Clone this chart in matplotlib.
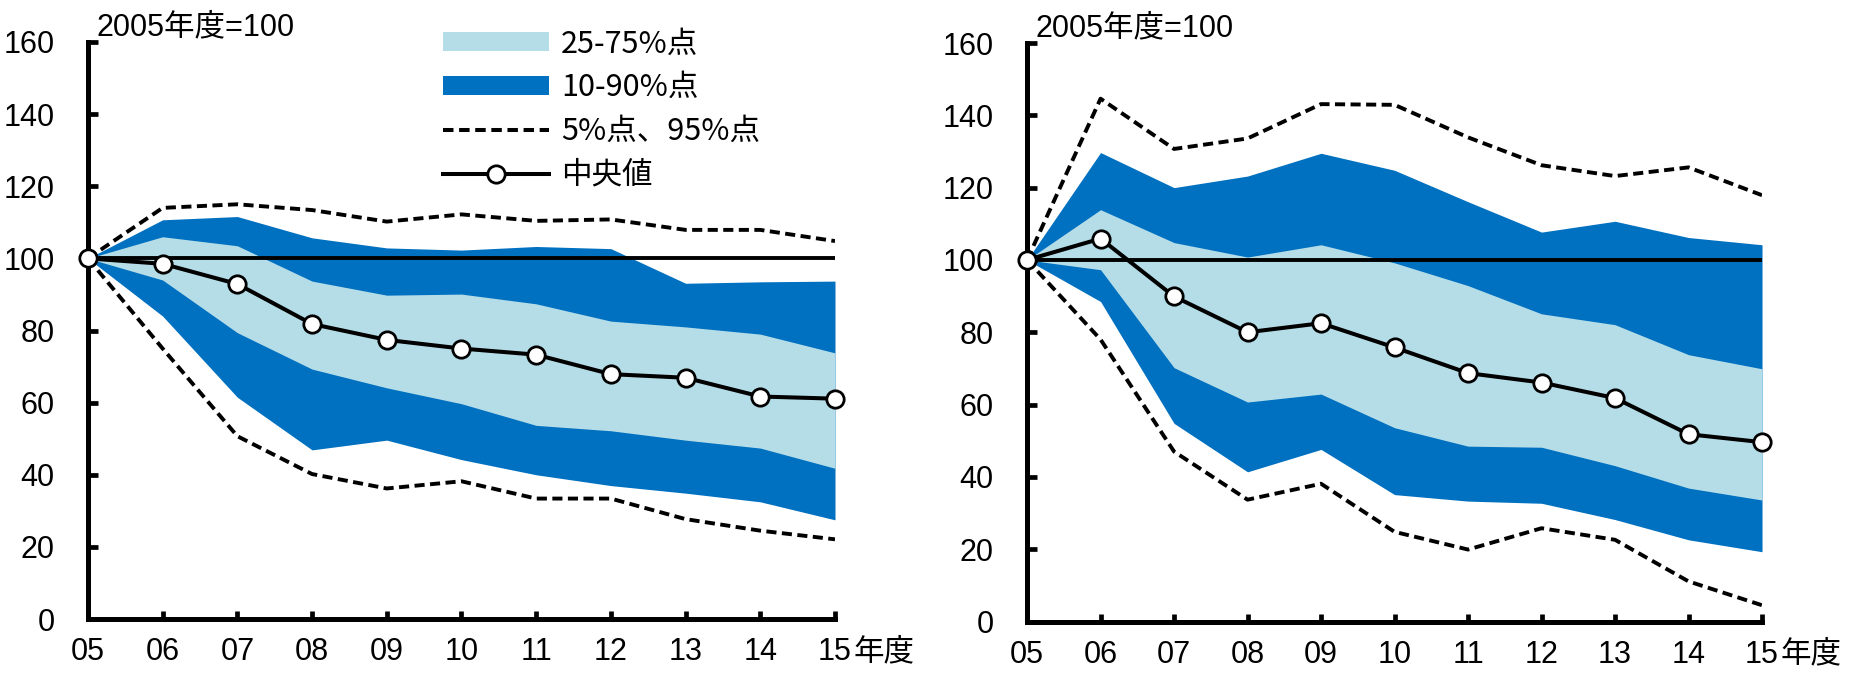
import numpy as np
import matplotlib
matplotlib.use("Agg")
import matplotlib.pyplot as plt
from matplotlib.patches import Patch
from matplotlib.lines import Line2D

plt.rcParams['font.family'] = ['Liberation Sans', 'Noto Sans CJK JP', 'DejaVu Sans']

years = ['05', '06', '07', '08', '09', '10', '11', '12', '13', '14', '15']

# left panel percentiles (2005 = 100)
l_p05 = [100, 75.0, 50.7, 40.2, 36.2, 38.2, 33.4, 33.4, 27.7, 24.5, 22.1]
l_p10 = [100, 84.0, 61.5, 46.9, 49.6, 44.2, 40.0, 37.0, 34.9, 32.5, 27.5]
l_p25 = [100, 94.0, 79.4, 69.3, 64.1, 59.7, 53.7, 52.2, 49.6, 47.4, 41.8]
l_med = [100, 98.5, 92.9, 81.8, 77.4, 75.0, 73.3, 67.9, 66.9, 61.7, 61.1]
l_p75 = [100, 106.0, 103.5, 93.7, 89.8, 90.1, 87.4, 82.6, 81.0, 79.0, 73.8]
l_p90 = [100, 110.7, 111.6, 105.7, 102.9, 102.3, 103.3, 102.7, 93.1, 93.5, 93.7]
l_p95 = [100, 114.0, 115.0, 113.4, 110.2, 112.2, 110.4, 110.8, 107.9, 107.9, 104.8]

# right panel percentiles
r_p05 = [100, 78.0, 47.0, 33.7, 38.1, 24.8, 19.9, 25.8, 22.6, 11.1, 4.5]
r_p10 = [100, 88.5, 54.8, 41.4, 47.6, 35.1, 33.3, 32.7, 28.2, 22.6, 19.3]
r_p25 = [100, 97.3, 70.2, 60.7, 62.9, 53.6, 48.5, 48.2, 43.1, 36.9, 33.6]
r_med = [100, 105.9, 89.9, 80.0, 82.5, 75.8, 68.7, 66.1, 61.8, 51.8, 49.6]
r_p75 = [100, 113.9, 104.8, 100.8, 104.2, 99.2, 92.9, 85.1, 82.1, 73.8, 69.9]
r_p90 = [100, 129.7, 120.0, 123.2, 129.5, 124.8, 116.1, 107.7, 110.7, 106.2, 104.2]
r_p95 = [100, 144.6, 130.7, 133.6, 143.1, 142.9, 133.9, 126.2, 123.2, 125.6, 117.9]

legend_labels = ['25-75%点', '10-90%点', '5%点、95%点', '中央値']

LIGHT = '#B5DDE8'
DARK = '#0070C0'
TICK_FONT = 22
DASH = (0, (2.6, 1.4))

fig = plt.figure(figsize=(18.63, 6.73), dpi=100)
ax1 = fig.add_axes([0.0472, 0.0802, 0.4010, 0.8574])
ax2 = fig.add_axes([0.5513, 0.0765, 0.3945, 0.8596])


def draw_panel(ax, p05, p10, p25, med, p75, p90, p95):
    x = np.arange(len(years))
    ax.fill_between(x, p10, p90, color=DARK, linewidth=0, zorder=1)
    ax.fill_between(x, p25, p75, color=LIGHT, linewidth=0, zorder=2)
    ax.axhline(100, color='black', linewidth=2.8, zorder=3)
    ax.plot(x, p95, color='black', linestyle=DASH, linewidth=2.8, zorder=4)
    ax.plot(x, p05, color='black', linestyle=DASH, linewidth=2.8, zorder=4)
    ax.plot(x, med, color='black', linewidth=2.9, marker='o', markersize=12.5,
            markerfacecolor='white', markeredgecolor='black', markeredgewidth=2.0,
            zorder=5, clip_on=False)

    ax.set_xlim(0, len(years) - 1)
    ax.set_ylim(0, 160)
    ax.set_yticks(np.arange(0, 161, 20))
    ax.set_xticks(x)
    ax.set_xticklabels(years)

    for side in ['top', 'right']:
        ax.spines[side].set_visible(False)
    for side in ['left', 'bottom']:
        ax.spines[side].set_linewidth(3.6)

    ax.tick_params(axis='y', direction='in', length=7, width=3.4, pad=24,
                   labelsize=TICK_FONT)
    ax.tick_params(axis='x', direction='in', length=6, width=3.4, pad=13,
                   labelsize=TICK_FONT)

    ax.text(0.012, 1.0, '2005年度=100', transform=ax.transAxes,
            ha='left', va='bottom', fontsize=TICK_FONT)
    ax.annotate('年度', xy=(len(years) - 1, 0), xycoords=('data', 'axes fraction'),
                xytext=(13, -13), textcoords='offset points',
                ha='left', va='top', fontsize=TICK_FONT)


draw_panel(ax1, l_p05, l_p10, l_p25, l_med, l_p75, l_p90, l_p95)
draw_panel(ax2, r_p05, r_p10, r_p25, r_med, r_p75, r_p90, r_p95)

handles = [
    Patch(facecolor=LIGHT, edgecolor='none'),
    Patch(facecolor=DARK, edgecolor='none'),
    Line2D([], [], color='black', linestyle=DASH, linewidth=2.9),
    Line2D([], [], color='black', linewidth=2.9, marker='o', markersize=12.5,
           markerfacecolor='white', markeredgecolor='black', markeredgewidth=2.0),
]
ax1.legend(handles, legend_labels, loc='upper left', bbox_to_anchor=(0.455, 1.05),
           frameon=False, handlelength=3.45, handleheight=0.55,
           handletextpad=0.4, labelspacing=0.42, borderpad=0,
           prop={'family': ['Noto Sans CJK JP'], 'size': 22})

fig.savefig('out.png', dpi=100, facecolor='white')
